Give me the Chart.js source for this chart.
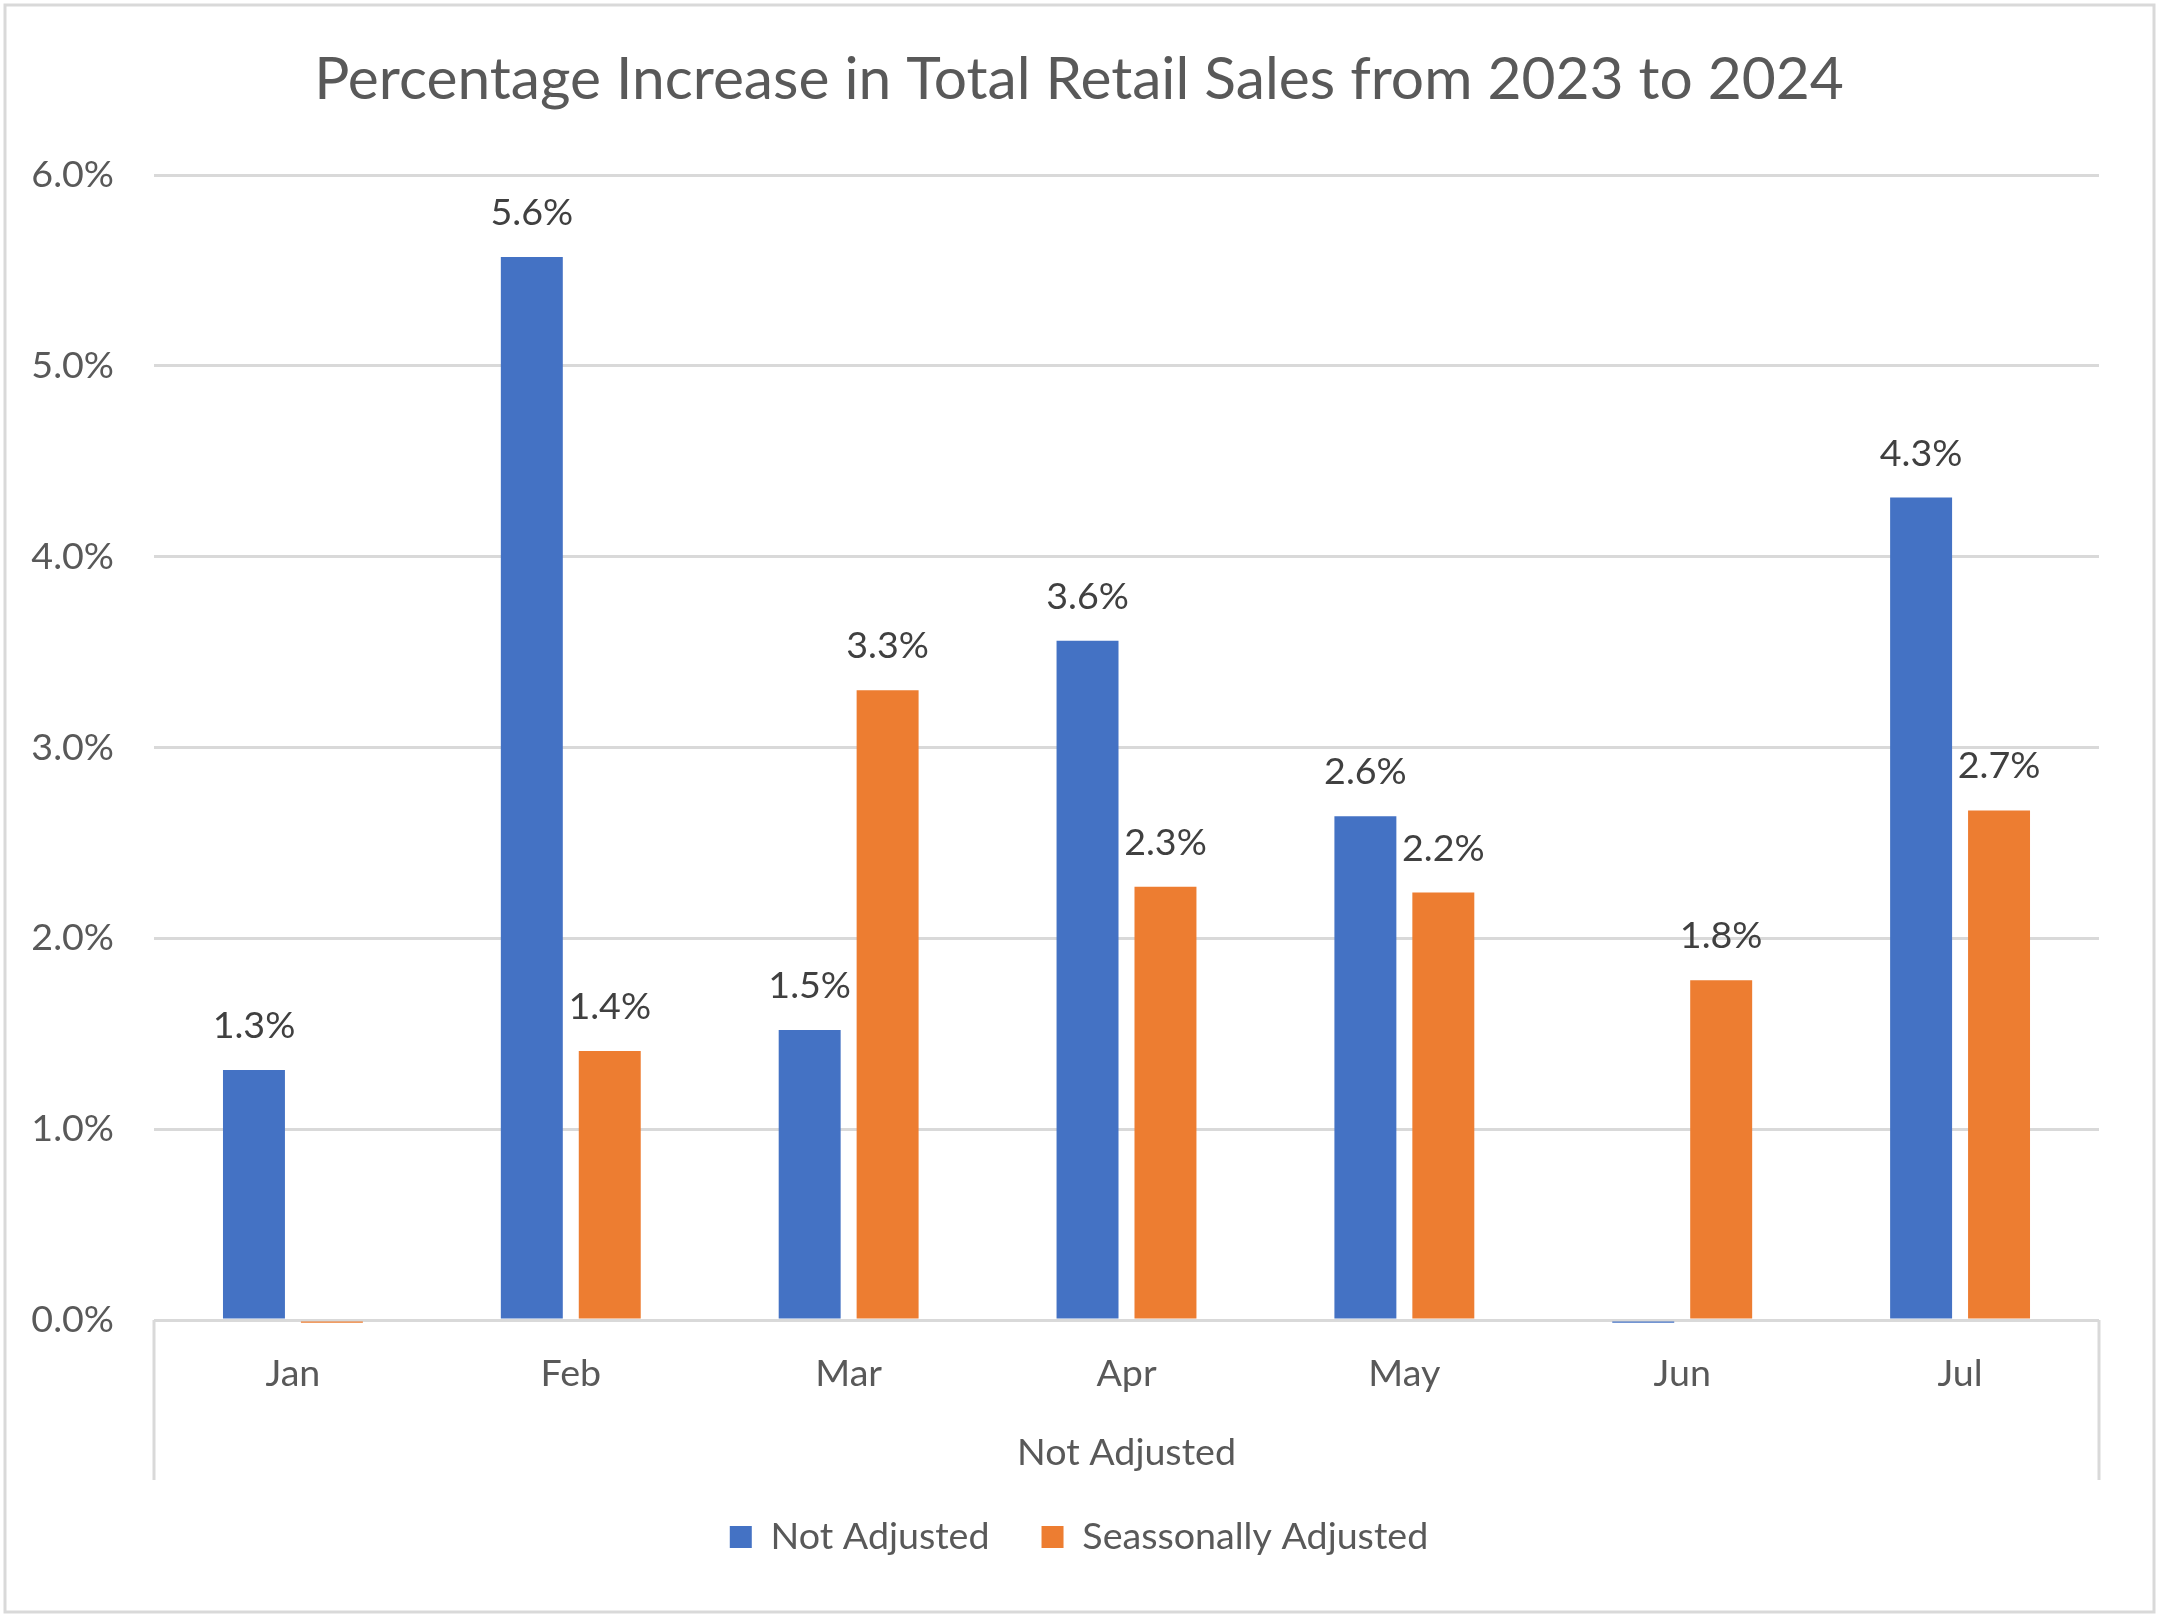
<!DOCTYPE html>
<html>
<head>
<meta charset="utf-8">
<script src="https://cdn.jsdelivr.net/npm/chart.js@4.4.1/dist/chart.umd.min.js"></script>
<style>
  html, body { margin: 0; padding: 0; background: #ffffff; }
  canvas { display: block; }
</style>
</head>
<body>
<canvas id="c" width="2158" height="1617"></canvas>
<script>
// ---- data ----
const categories = ['Jan', 'Feb', 'Mar', 'Apr', 'May', 'Jun', 'Jul'];
const notAdjusted = [1.31, 5.57, 1.52, 3.56, 2.64, -0.015, 4.31];
const seasonallyAdjusted = [-0.015, 1.41, 3.30, 2.27, 2.24, 1.78, 2.67];
const seriesNames = ['Not Adjusted', 'Seassonally Adjusted'];
const groupLabel = 'Not Adjusted';
const titleText = 'Percentage Increase in Total Retail Sales from 2023 to 2024';
const yMin = 0, yMax = 6, yStep = 1;

// ---- style ----
const FAMILY = 'Lato, "Open Sans", sans-serif';
const mctx = document.createElement('canvas').getContext('2d');
function fitSize(text, target) {
  mctx.font = '100px ' + FAMILY;
  return 100 * target / mctx.measureText(text).width;
}
const baseSize = fitSize('Not Adjusted', 219);
const titleSize = fitSize(titleText, 1530);
const LH = 1.2;

const W = 2158, H = 1617;
const AREA_TOP = 175, AREA_BOTTOM = 1320, AREA_LEFT = 154, AREA_RIGHT = 2099;
const RIGHT_GAP = W - AREA_RIGHT;
const TITLE_CENTER = 80;
const LEGEND_CENTER = 1537;
const LEGEND_PAD = 52;
const GROUP_TITLE_CENTER = 1453;

const titleLine = titleSize * LH;
const titlePadTop = TITLE_CENTER - titleLine / 2;
const titlePadBottom = AREA_TOP - titlePadTop - titleLine;

// legend height = itemHeight + padding + 10 ; text center = top + padding + itemHeight/2
const legendH = baseSize + LEGEND_PAD + 10;
const legendTop = LEGEND_CENTER - LEGEND_PAD - baseSize / 2;
const layoutPadBottom = H - legendTop - legendH;
const xAxisH = legendTop - AREA_BOTTOM;
const groupLine = baseSize * LH;
const groupPadBottom = legendTop - GROUP_TITLE_CENTER - groupLine / 2;

const GRID = '#d9d9d9';
const TEXT = '#595959';
const LABEL = '#404040';

const bgFrame = {
  id: 'bgFrame',
  beforeDraw(chart) {
    const c = chart.ctx;
    c.save();
    c.fillStyle = '#ffffff';
    c.fillRect(0, 0, chart.width, chart.height);
    c.restore();
  },
  afterDraw(chart) {
    const c = chart.ctx;
    c.save();
    c.strokeStyle = GRID;
    c.lineWidth = 3;
    c.strokeRect(5, 5, chart.width - 9, chart.height - 10);
    // multi-level category group box (outer verticals)
    const xs = chart.scales.x;
    const top = chart.chartArea.bottom;
    const bottom = top + 160;
    c.beginPath();
    c.moveTo(xs.left, top); c.lineTo(xs.left, bottom);
    c.moveTo(xs.right, top); c.lineTo(xs.right, bottom);
    c.stroke();
    c.restore();
  }
};

const barLabels = {
  id: 'barLabels',
  afterDatasetsDraw(chart) {
    const c = chart.ctx;
    c.save();
    c.font = baseSize + 'px ' + FAMILY;
    c.fillStyle = LABEL;
    c.textAlign = 'center';
    c.textBaseline = 'alphabetic';
    chart.data.datasets.forEach((ds, i) => {
      const meta = chart.getDatasetMeta(i);
      meta.data.forEach((bar, j) => {
        const v = ds.data[j];
        if (v <= 0) return;
        c.fillText(v.toFixed(1) + '%', bar.x, bar.y - 32);
      });
    });
    c.restore();
  }
};

new Chart(document.getElementById('c'), {
  type: 'bar',
  data: {
    labels: categories,
    datasets: [
      { label: seriesNames[0], data: notAdjusted, backgroundColor: '#4472C4', borderWidth: 0, clip: false },
      { label: seriesNames[1], data: seasonallyAdjusted, backgroundColor: '#ED7D31', borderWidth: 0, clip: false }
    ]
  },
  options: {
    responsive: false,
    animation: false,
    categoryPercentage: 0.561,
    barPercentage: 0.795,
    layout: { padding: { left: 0, right: 0, top: 0, bottom: layoutPadBottom } },
    plugins: {
      title: {
        display: true,
        text: titleText,
        color: TEXT,
        font: { family: FAMILY, size: titleSize, weight: 'normal', lineHeight: LH },
        padding: { top: titlePadTop, bottom: titlePadBottom }
      },
      legend: {
        display: true,
        position: 'bottom',
        labels: {
          color: TEXT,
          font: { family: FAMILY, size: baseSize },
          boxWidth: 22,
          boxHeight: 22,
          padding: LEGEND_PAD
        }
      },
      tooltip: { enabled: false }
    },
    scales: {
      x: {
        grid: { display: false },
        border: { display: false },
        ticks: { color: TEXT, font: { family: FAMILY, size: baseSize, lineHeight: LH }, padding: 23, maxRotation: 0 },
        title: {
          display: true,
          text: groupLabel,
          color: TEXT,
          font: { family: FAMILY, size: baseSize, lineHeight: LH },
          padding: { top: 0, bottom: groupPadBottom }
        },
        afterFit(scale) { scale.height = xAxisH; }
      },
      y: {
        min: yMin,
        max: yMax,
        border: { display: false },
        grid: { color: GRID, lineWidth: 3, drawTicks: false },
        ticks: {
          stepSize: yStep,
          color: TEXT,
          font: { family: FAMILY, size: baseSize },
          padding: 40,
          callback: (v) => Number(v).toFixed(1) + '%'
        },
        afterFit(scale) { scale.width = AREA_LEFT; }
      },
      // empty spacer on the right so the plot ends where the reference does
      yRight: {
        type: 'linear',
        position: 'right',
        grid: { display: false, drawTicks: false },
        border: { display: false },
        ticks: { display: false },
        afterFit(scale) { scale.width = RIGHT_GAP; }
      }
    }
  },
  plugins: [bgFrame, barLabels]
});
</script>
</body>
</html>
